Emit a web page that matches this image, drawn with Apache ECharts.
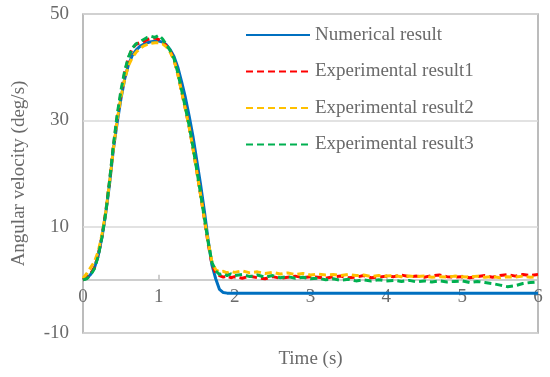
<!DOCTYPE html>
<html><head><meta charset="utf-8">
<script src="https://cdn.jsdelivr.net/npm/echarts@6/dist/echarts.min.js"></script>
<style>html,body{margin:0;padding:0;background:#fff}#c{width:550px;height:377px}</style>
</head><body><div id="c"></div>
<script>
var timeS = [0,0.05,0.1,0.15,0.2,0.25,0.3,0.35,0.4,0.45,0.5,0.55,0.6,0.65,0.7,0.75,0.8,0.85,0.9,0.95,1.0,1.05,1.1,1.15,1.2,1.25,1.3,1.35,1.4,1.45,1.5,1.55,1.6,1.65,1.7,1.75,1.8,1.85,1.9,1.95,2.0,
  2.1,2.2,2.3,2.4,2.5,2.6,2.7,2.8,2.9,3.0,3.1,3.2,3.3,3.4,3.5,3.6,3.7,3.8,3.9,4.0,4.1,4.2,4.3,4.4,4.5,4.6,4.7,4.8,4.9,5.0,5.1,5.2,5.3,5.4,5.5,5.6,5.7,5.8,5.9,6.0];
var numerical = [0,0.3,1,2.2,4.5,8,12.5,18,24.5,29.5,34,37.8,40.5,42.2,43.2,43.9,44.3,44.6,44.8,44.9,44.9,44.7,44.2,43.3,42,40,37.3,34.3,30.8,27,22.5,18,13,7.5,2.8,0.2,-1.8,-2.4,-2.5,-2.5,-2.5,
  -2.5,-2.5,-2.5,-2.5,-2.5,-2.5,-2.5,-2.5,-2.5,-2.5,-2.5,-2.5,-2.5,-2.5,-2.5,-2.5,-2.5,-2.5,-2.5,-2.5,-2.5,-2.5,-2.5,-2.5,-2.5,-2.5,-2.5,-2.5,-2.5,-2.5,-2.5,-2.5,-2.5,-2.5,-2.5,-2.5,-2.5,-2.5,-2.5,-2.5];
var exp1 = [0,0.4,1.1,2.3,4.6,8.2,12.8,18.5,25,30.5,35,39,41.8,43.5,44.3,44.6,44.8,45.2,45.4,45.5,45.2,44.8,44,43,41.4,38.8,35.5,32.2,28.8,24.8,20.5,16,11.5,6.8,3,1.3,0.8,0.5,0.7,0.4,0.6,
  0.3,0.7,0.4,0.2,0.6,0.3,0.5,0.7,0.4,0.6,0.5,0.3,0.6,0.7,0.4,0.5,0.8,0.4,0.5,0.7,0.6,0.9,0.6,0.7,0.5,0.8,0.9,0.6,0.5,0.6,0.4,0.6,0.8,0.5,0.8,1.0,0.7,1.0,0.8,1.0];
var exp2 = [0.3,1.2,2.3,3.4,5.3,8.5,12.8,18.3,24.5,30,34.3,37.8,40.3,41.8,42.8,43.5,44,44.3,44.5,44.6,44.6,44.4,43.8,42.8,41.3,38.7,35.4,32.1,28.7,24.7,20.4,16,11.6,7.2,3.4,1.9,1.5,1.6,1.3,1.6,1.4,
  1.7,1.3,1.5,1.2,1.4,1.1,1.3,1.0,1.2,0.9,1.1,0.9,1.0,0.8,1.0,0.8,0.9,0.6,0.8,0.7,0.8,0.6,0.7,0.6,0.7,0.5,0.6,0.5,0.7,0.6,0.5,0.7,0.5,0.6,0.4,0.6,0.5,0.7,0.5,0.6];
var exp3 = [0,0.2,0.9,2.1,4.4,8,12.6,18.6,25.2,31,35.6,39.3,41.9,43.6,44.4,44.8,45.2,45.6,45.8,45.6,46,45.3,44.2,43.1,41.6,39,35.7,32.4,29,25,20.7,16.2,11.7,7.1,3.3,1.7,1.0,1.2,0.8,1.1,0.8,
  1.0,0.6,0.9,0.5,0.8,0.4,0.6,0.3,0.5,0.2,0.3,0.0,0.2,-0.1,0.1,-0.2,0.0,-0.2,0.0,-0.2,-0.1,-0.3,-0.1,-0.4,-0.2,-0.4,-0.2,-0.4,-0.3,-0.2,-0.5,-0.3,-0.5,-0.7,-1.0,-1.3,-1.1,-0.7,-0.5,-0.4];
var seriesNames = ['Numerical result','Experimental result1','Experimental result2','Experimental result3'];
var yTicks = [-10,10,30,50];
var xTicks = [0,1,2,3,4,5,6];

function pairs(v){ return timeS.map(function(t,i){ return [t, v[i]]; }); }
var FONT = 'Liberation Serif';
var TXT = '#6a6a6a';
var chart = echarts.init(document.getElementById('c'), null, {renderer:'canvas'});
var colors = ['#0070C0','#FF0000','#FFC000','#00B050'];
var datas = [numerical, exp1, exp2, exp3];
var series = datas.map(function(d,i){
  return {
    name: seriesNames[i], type:'line', data: pairs(d), symbol:'none', smooth:false,
    lineStyle:{ color: colors[i], width: 3, type: i===0 ? 'solid' : [7,4] },
    itemStyle:{ color: colors[i] }, z: 2+i, animation:false
  };
});
chart.setOption({
  animation:false,
  grid:{ left:83, right:12, top:14, bottom:44, show:true, borderColor:'#a6a6a6', borderWidth:1.5, containLabel:false, outerBoundsMode:'none' },
  legend:{
    orient:'vertical', left:240, top:20, itemWidth:64, itemHeight:14, itemGap:16.5,
    itemStyle:{ opacity:0 },
    textStyle:{ fontFamily:FONT, fontSize:19, color:TXT, lineHeight:20 },
    data: seriesNames
  },
  xAxis:{
    type:'value', min:0, max:6, interval:1,
    name:'Time (s)', nameLocation:'middle', nameGap:17,
    nameTextStyle:{ fontFamily:FONT, fontSize:19, color:TXT },
    axisLine:{ onZero:true, lineStyle:{ color:'#bfbfbf', width:1.5 } },
    axisTick:{ show:true, inside:true, length:5, lineStyle:{ color:'#bfbfbf', width:1.5 } },
    axisLabel:{ fontFamily:FONT, fontSize:19, color:TXT, margin:-45,
      formatter:function(v){ return xTicks.indexOf(v)>=0 ? String(v) : ''; } },
    splitLine:{ show:false }
  },
  yAxis:{
    type:'value', min:-10, max:50, interval:20,
    name:'Angular velocity (deg/s)', nameLocation:'middle', nameGap:54,
    nameTextStyle:{ fontFamily:FONT, fontSize:19, color:TXT },
    axisLine:{ show:false },
    axisTick:{ show:false },
    axisLabel:{ fontFamily:FONT, fontSize:19, color:TXT, margin:14,
      formatter:function(v){ return yTicks.indexOf(v)>=0 ? String(v) : ''; } },
    splitLine:{ show:true, lineStyle:{ color:'#d9d9d9', width:1.5 } }
  },
  series: series
});
</script></body></html>
